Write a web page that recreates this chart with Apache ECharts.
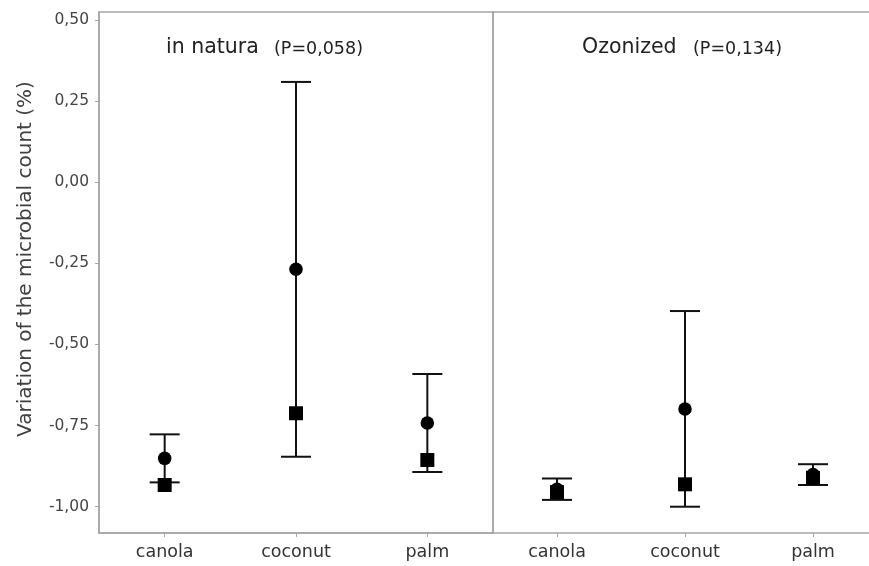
<!DOCTYPE html>
<html>
<head>
<meta charset="utf-8">
<title>Variation of the microbial count</title>
<script src="https://cdn.jsdelivr.net/npm/echarts@6/dist/echarts.min.js"></script>
<style>
  html, body { margin: 0; padding: 0; background: #ffffff; overflow: hidden; }
  #chart { width: 869px; height: 566px; }
</style>
</head>
<body>
<div id="chart"></div>
<script>
// Oils on the horizontal axis, repeated in both panels
const categories = ['canola', 'coconut', 'palm'];
const panelNames = ['in natura', 'Ozonized'];
const panelP = ['(P=0,058)', '(P=0,134)'];
const yTitle = 'Variation of the microbial count (%)';

// Y axis tick values
const yTicks = [-1.00, -0.75, -0.50, -0.25, 0.00, 0.25, 0.50];

// in natura: mean (circle), interval bounds (error bar), median (square)
const naturaMean   = [-0.851, -0.268, -0.742];
const naturaLow    = [-0.925, -0.846, -0.893];
const naturaHigh   = [-0.777,  0.309, -0.591];
const naturaMedian = [-0.933, -0.712, -0.856];

// Ozonized: mean (circle), interval bounds (error bar), median (square)
const ozonMean   = [-0.946, -0.699, -0.901];
const ozonLow    = [-0.979, -1.000, -0.933];
const ozonHigh   = [-0.913, -0.397, -0.869];
const ozonMedian = [-0.955, -0.931, -0.911];

const FONT = '"DejaVu Sans", "Open Sans", sans-serif';
const AXIS_GREY = '#a6a6a6';
const TEXT = '#333333';
const Y_MIN = -1.081, Y_MAX = 0.5245;

function fmtComma(v) {
  return v.toFixed(2).replace('.', ',');
}

function errorBarData(low, high) {
  return categories.map((c, i) => [i, low[i], high[i]]);
}

// vertical interval line with a cap at each end
function renderErrorBar(params, api) {
  const x = api.value(0);
  const lo = api.coord([x, api.value(1)]);
  const hi = api.coord([x, api.value(2)]);
  const half = 15;
  const style = { stroke: '#111111', lineWidth: 2, fill: null };
  return {
    type: 'group',
    children: [
      { type: 'line', shape: { x1: hi[0], y1: hi[1], x2: lo[0], y2: lo[1] }, style: style },
      { type: 'line', shape: { x1: hi[0] - half, y1: hi[1], x2: hi[0] + half, y2: hi[1] }, style: style },
      { type: 'line', shape: { x1: lo[0] - half, y1: lo[1], x2: lo[0] + half, y2: lo[1] }, style: style }
    ]
  };
}

function pointData(vals) {
  return vals.map((v, i) => [i, v]);
}

// Left panel keeps a full frame (its right edge is the divider);
// the right panel runs off the page, so only top/left/bottom lines are drawn.
const grids = [
  { left: 99, top: 12, width: 394, height: 521, show: true },
  { left: 493, top: 12, width: 384, height: 521, show: false }
].map(g => Object.assign(g, {
  borderColor: AXIS_GREY,
  borderWidth: 1.5,
  backgroundColor: 'transparent',
  outerBoundsMode: 'none',
  containLabel: false
}));

const lineStyle = { color: AXIS_GREY, width: 1.5 };

const xAxes = [0, 1].map(gi => ({
  type: 'category',
  gridIndex: gi,
  position: 'bottom',
  data: categories,
  boundaryGap: true,
  axisLine: { show: true, onZero: false, lineStyle: lineStyle },
  axisTick: { show: true, alignWithLabel: true, length: 4, lineStyle: { color: AXIS_GREY } },
  axisLabel: { color: TEXT, fontFamily: FONT, fontSize: 17.5, margin: 10 },
  splitLine: { show: false }
}));
// top frame line of the right panel
xAxes.push({
  type: 'category',
  gridIndex: 1,
  position: 'top',
  data: categories,
  axisLine: { show: true, onZero: false, lineStyle: lineStyle },
  axisTick: { show: false },
  axisLabel: { show: false },
  splitLine: { show: false }
});

const yAxes = [0, 1].map(gi => ({
  type: 'value',
  gridIndex: gi,
  min: Y_MIN,
  max: Y_MAX,
  axisLine: { show: true, onZero: false, lineStyle: lineStyle },
  axisTick: { show: gi === 0, length: 4, customValues: yTicks, lineStyle: { color: AXIS_GREY } },
  axisLabel: {
    show: gi === 0,
    customValues: yTicks,
    color: '#444444',
    fontFamily: FONT,
    fontSize: 15.5,
    margin: 10,
    formatter: v => fmtComma(v)
  },
  splitLine: { show: false }
}));

// Panel headings: name and P value, placed inside each panel
const headingPos = [
  { name: 161, p: 269 },
  { name: 577, p: 688 }
];
const panelTitles = [];
headingPos.forEach((pos, i) => {
  panelTitles.push({
    left: pos.name, top: 32,
    text: panelNames[i],
    textStyle: { fontFamily: FONT, fontSize: 20.5, fontWeight: 'normal', color: '#222222' }
  });
  panelTitles.push({
    left: pos.p, top: 35,
    text: panelP[i],
    textStyle: { fontFamily: FONT, fontSize: 17.5, fontWeight: 'normal', color: '#222222' }
  });
});

const series = [];
[[naturaMean, naturaLow, naturaHigh, naturaMedian], [ozonMean, ozonLow, ozonHigh, ozonMedian]]
  .forEach((set, gi) => {
    const [mean, low, high, median] = set;
    series.push({
      type: 'custom',
      xAxisIndex: gi, yAxisIndex: gi,
      renderItem: renderErrorBar,
      encode: { x: 0, y: [1, 2] },
      data: errorBarData(low, high),
      z: 2,
      silent: true
    });
    series.push({
      type: 'scatter',
      xAxisIndex: gi, yAxisIndex: gi,
      symbol: 'circle',
      symbolSize: 13.5,
      itemStyle: { color: '#000000', opacity: 1 },
      data: pointData(mean),
      z: 3,
      silent: true
    });
    series.push({
      type: 'scatter',
      xAxisIndex: gi, yAxisIndex: gi,
      symbol: 'rect',
      symbolSize: 14,
      itemStyle: { color: '#000000', opacity: 1 },
      data: pointData(median),
      z: 4,
      silent: true
    });
  });

const chart = echarts.init(document.getElementById('chart'), null, { renderer: 'canvas' });
chart.setOption({
  animation: false,
  backgroundColor: '#ffffff',
  title: panelTitles,
  grid: grids,
  xAxis: xAxes,
  yAxis: yAxes,
  series: series,
  graphic: [{
    type: 'text',
    x: 26,
    y: 259,
    rotation: Math.PI / 2,
    style: {
      text: yTitle,
      align: 'center',
      verticalAlign: 'middle',
      fontFamily: FONT,
      fontSize: 20,
      fill: '#404040'
    }
  }]
});
</script>
</body>
</html>
